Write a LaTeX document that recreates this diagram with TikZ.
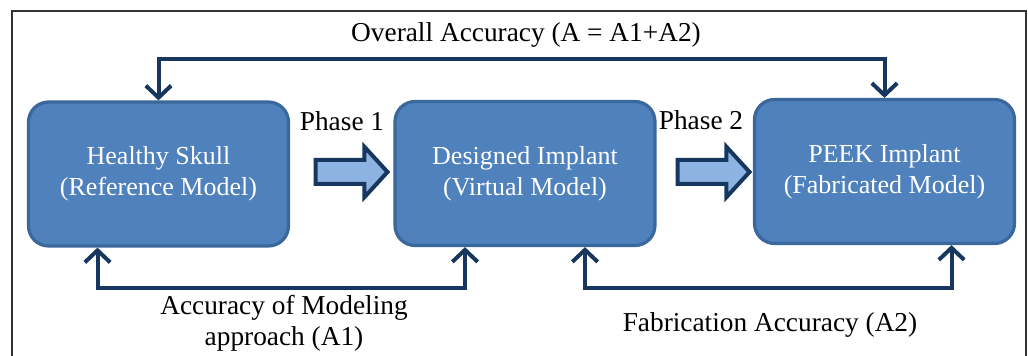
\documentclass[tikz,border=0pt]{standalone}
\usepackage{fontspec}
\setmainfont{Liberation Serif}
\usetikzlibrary{arrows.meta,shapes.arrows,calc}

\definecolor{boxfill}{HTML}{4F81BD}
\definecolor{boxline}{HTML}{3A679C}
\definecolor{navy}{HTML}{17375E}
\definecolor{arrowfill}{HTML}{8DB3E2}

\tikzset{
  model/.style={draw=boxline, line width=2.4pt, fill=boxfill, rounded corners=15pt,
    minimum width=195pt, minimum height=108pt, align=center, text=white,
    font=\fontsize{19.5}{23}\selectfont},
  phasearrow/.style={single arrow, draw=navy, line width=3pt, fill=arrowfill,
    minimum height=54pt, minimum width=37pt, inner sep=7.5pt,
    single arrow head extend=10pt, single arrow tip angle=95},
  link/.style={draw=navy, line width=3pt,
    {Straight Barb[length=9pt,width=19pt]}-{Straight Barb[length=9pt,width=19pt]}},
  lbl/.style={font=\fontsize{20.5}{23}\selectfont, align=center}
}

\begin{document}
\begin{tikzpicture}[x=0.75pt, y=-0.75pt]

  \clip (0,0) rectangle (1028,356);
  \draw[line width=1pt, black!80] (12,11) rectangle (1026,420);

  \node[model] (skull) at (158.5,174) {Healthy Skull\\(Reference Model)};
  \node[model] (design) at (525,173.5) {Designed Implant\\(Virtual Model)};
  \node[model] (peek) at (884.5,171.5) {PEEK Implant\\(Fabricated Model)};

  \node[phasearrow] (phaseone) at (346,172) {};
  \node[phasearrow] (phasetwo) at (708,172) {};
  \node[lbl] (phaseonelbl) at (342,121) {Phase 1};
  \node[lbl] (phasetwolbl) at (701,120) {Phase 2};

  \draw[link] (skull.north) -- ++(0,-41) -| (peek.north);
  \draw[link] ($(skull.south)+(-61,0)$) -- ++(0,40) -| ($(design.south)+(-60,0)$);
  \draw[link] ($(design.south)+(60,0)$) -- ++(0,41) -| ($(peek.south)+(67,0)$);

  \node[lbl] (overall) at (526,35) {Overall Accuracy (A = A1+A2)};
  \node[lbl] (modlbl) at (284,323) {Accuracy of Modeling\\approach (A1)};
  \node[lbl] (fablbl) at (770,325) {Fabrication Accuracy (A2)};

\end{tikzpicture}
\end{document}
